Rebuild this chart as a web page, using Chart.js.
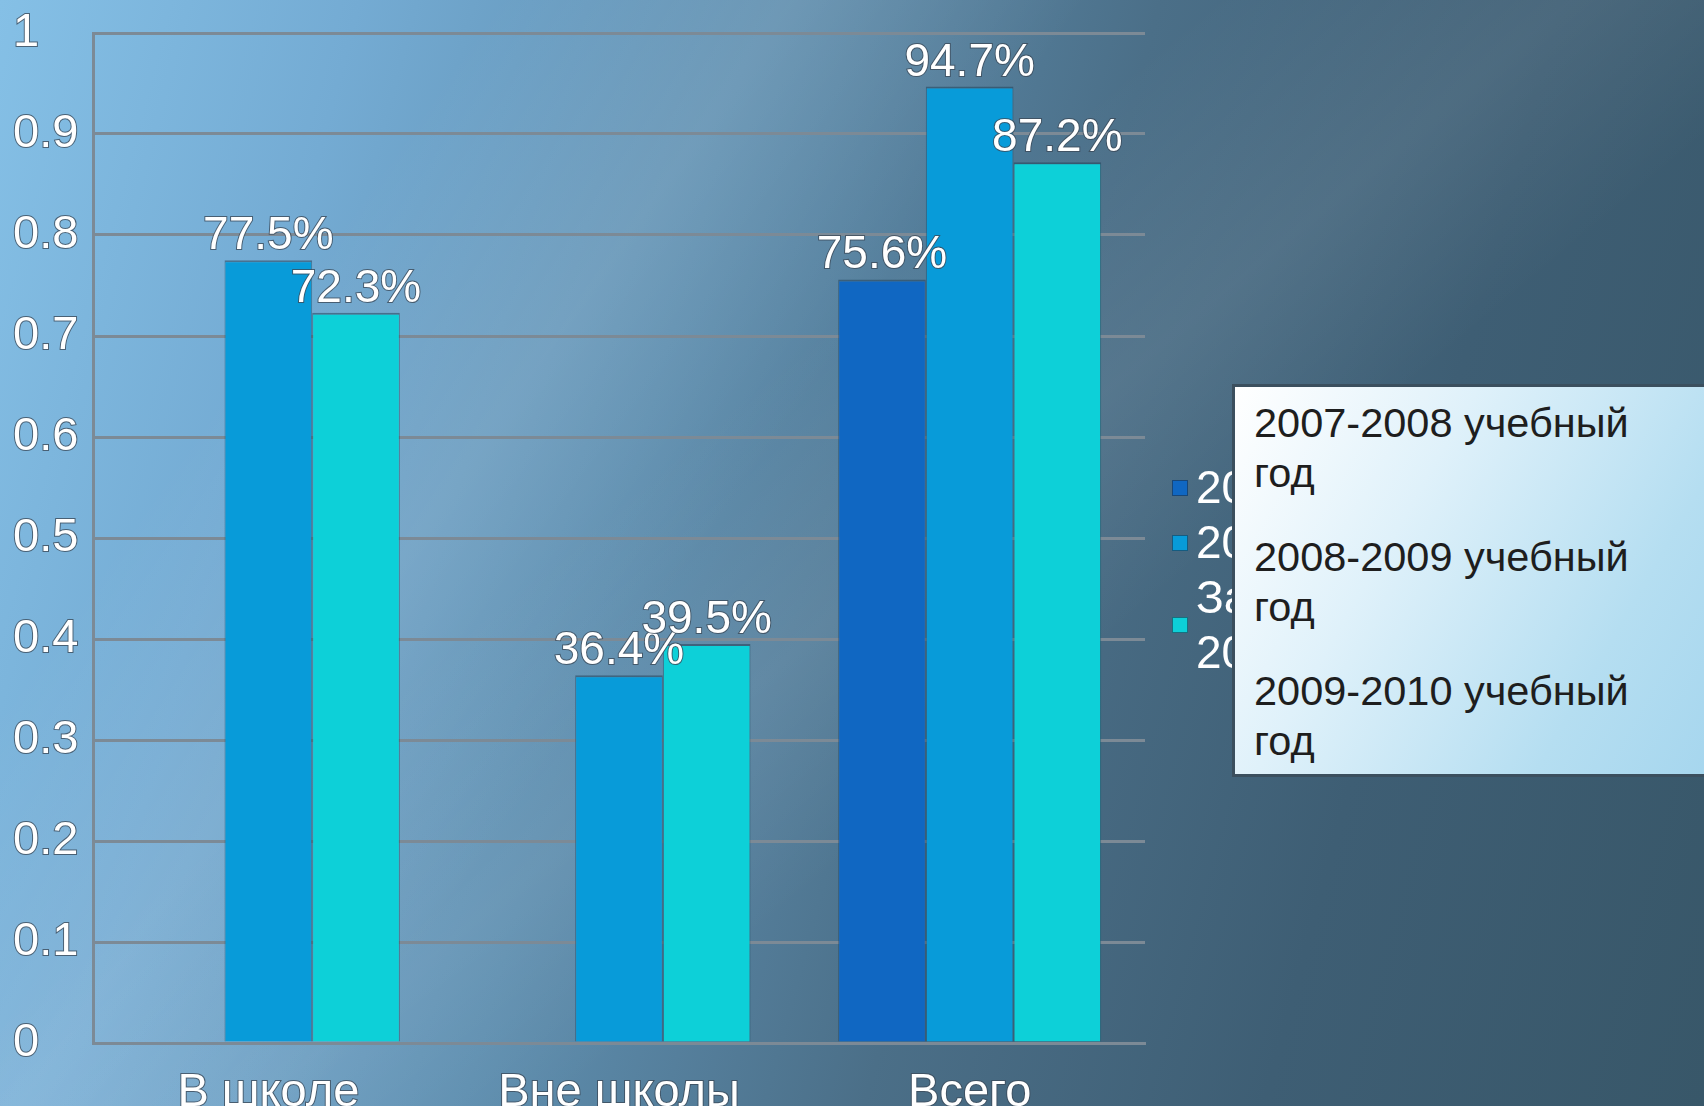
<!DOCTYPE html>
<html>
<head>
<meta charset="utf-8">
<script src="https://cdn.jsdelivr.net/npm/chart.js@4/dist/chart.umd.min.js"></script>
<style>
    html, body { margin: 0; padding: 0; }
    body {
        width: 1704px;
        height: 1106px;
        overflow: hidden;
        position: relative;
        font-family: 'Liberation Sans', Arial, sans-serif;
        background:
            linear-gradient(125deg, rgba(255,255,255,0) 20%, rgba(255,255,255,0.10) 32%, rgba(255,255,255,0) 44%),
            linear-gradient(140deg, rgba(255,255,255,0) 40%, rgba(255,255,255,0.07) 52%, rgba(255,255,255,0) 62%),
            linear-gradient(105deg, #85c0e6 0%, #74abd3 18%, #5f8fb0 38%, #4b6f88 58%, #3e5e74 78%, #385769 100%);
    }
    #chart { position: absolute; left: 0; top: 0; }
    #back-legend {
        position: absolute;
        left: 1172px;
        top: 460px;
        width: 262px;
        color: #fff;
        font-size: 46px;
        line-height: 55px;
    }
    .bl-item { display: flex; align-items: center; }
    .bl-sw { width: 14px; height: 14px; margin-right: 8px; flex: none; border: 1px solid rgba(30,50,70,0.6); }
    #legend-box {
        position: absolute;
        left: 1232px;
        top: 384px;
        width: 480px;
        height: 393px;
        box-sizing: border-box;
        border: 3px solid #3b4f5e;
        background: linear-gradient(120deg, #ffffff 0%, #dff1fa 35%, #b5def1 75%, #a6d6ee 100%);
        padding: 11px 0 0 19px;
        color: #1e1e1e;
        font-size: 41.5px;
        line-height: 50px;
    }
    .lb-item { width: 400px; margin-bottom: 34px; }
</style>
</head>
<body>
<canvas id="chart" width="1704" height="1106"></canvas>
<div id="back-legend"></div>
<div id="legend-box"></div>
<script>
var categories = ['В школе', 'Вне школы', 'Всего']
var seriesNames = ['2007-2008 учебный год', '2008-2009 учебный год', '2009-2010 учебный год']
var backLegendNames = ['2007-2008', '2008-2009', 'За 2009-2010']
var year0708 = [null, null, 0.756]
var year0809 = [0.775, 0.364, 0.947]
var year0910 = [0.723, 0.395, 0.872]
var yTicks = [0, 0.1, 0.2, 0.3, 0.4, 0.5, 0.6, 0.7, 0.8, 0.9, 1]
var colorList = ['#1067c2', '#089bd9', '#0dd0d8']

var tickFont = { family: "'Liberation Sans', Arial, sans-serif", size: 47 }
var gridColor = '#7c8a96'

// value labels above the bars, white with a thin dark outline
var valueLabels = {
    id: 'valueLabels',
    afterDatasetsDraw: function (chart) {
        var ctx = chart.ctx
        ctx.save()
        ctx.font = '46px "Liberation Sans", Arial, sans-serif'
        ctx.textAlign = 'center'
        ctx.textBaseline = 'alphabetic'
        ctx.lineWidth = 2
        ctx.strokeStyle = 'rgba(60,75,90,0.8)'
        ctx.fillStyle = '#ffffff'
        chart.data.datasets.forEach(function (ds, i) {
            var meta = chart.getDatasetMeta(i)
            meta.data.forEach(function (bar, j) {
                var v = ds.data[j]
                if (v === null) return
                var text = (v * 100).toFixed(1) + '%'
                ctx.strokeText(text, bar.x, bar.y - 11)
                ctx.fillText(text, bar.x, bar.y - 11)
            })
        })
        ctx.restore()
    }
}

var ctx = document.getElementById('chart').getContext('2d')
var barChart = new Chart(ctx, {
    type: 'bar',
    data: {
        labels: categories,
        datasets: [
            { label: seriesNames[0], data: year0708, backgroundColor: colorList[0] },
            { label: seriesNames[1], data: year0809, backgroundColor: colorList[1] },
            { label: seriesNames[2], data: year0910, backgroundColor: colorList[2] }
        ].map(function (d) {
            d.borderColor = 'rgba(35,65,90,0.55)'
            d.borderWidth = { top: 2, left: 1, right: 1, bottom: 0 }
            d.borderSkipped = 'bottom'
            d.categoryPercentage = 0.75
            d.barPercentage = 1
            return d
        })
    },
    options: {
        responsive: false,
        animation: false,
        layout: { padding: { left: 13, top: 33, right: 559, bottom: 0 } },
        plugins: {
            legend: { display: false },
            tooltip: { enabled: false },
            title: { display: false }
        },
        scales: {
            x: {
                grid: { display: false, drawTicks: false },
                border: { display: true, color: gridColor, width: 3 },
                ticks: {
                    color: '#ffffff',
                    font: tickFont,
                    padding: 22,
                    textStrokeColor: 'rgba(60,75,90,0.8)',
                    textStrokeWidth: 2,
                    maxRotation: 0
                },
                afterFit: function (scale) { scale.height = 63 }
            },
            y: {
                min: 0,
                max: 1,
                afterBuildTicks: function (scale) {
                    scale.ticks = yTicks.map(function (v) { return { value: v } })
                },
                grid: { color: gridColor, lineWidth: 3, drawTicks: false },
                border: { display: true, color: gridColor, width: 3 },
                ticks: {
                    color: '#ffffff',
                    font: { family: tickFont.family, size: 47, lineHeight: 1 },
                    crossAlign: 'far',
                    padding: 8,
                    textStrokeColor: 'rgba(60,75,90,0.8)',
                    textStrokeWidth: 2,
                    callback: function (v) { return String(Math.round(v * 10) / 10) }
                },
                afterFit: function (scale) { scale.width = 80 }
            }
        }
    },
    plugins: [valueLabels]
})

// legend drawn by the chart (partly hidden) and the white text box over it
var back = document.getElementById('back-legend')
var box = document.getElementById('legend-box')
seriesNames.forEach(function (name, i) {
    var item = document.createElement('div')
    item.className = 'bl-item'
    var sw = document.createElement('span')
    sw.className = 'bl-sw'
    sw.style.background = colorList[i]
    var tx = document.createElement('span')
    tx.textContent = backLegendNames[i]
    item.appendChild(sw)
    item.appendChild(tx)
    back.appendChild(item)

    var li = document.createElement('div')
    li.className = 'lb-item'
    li.textContent = name
    box.appendChild(li)
})
</script>
</body>
</html>
